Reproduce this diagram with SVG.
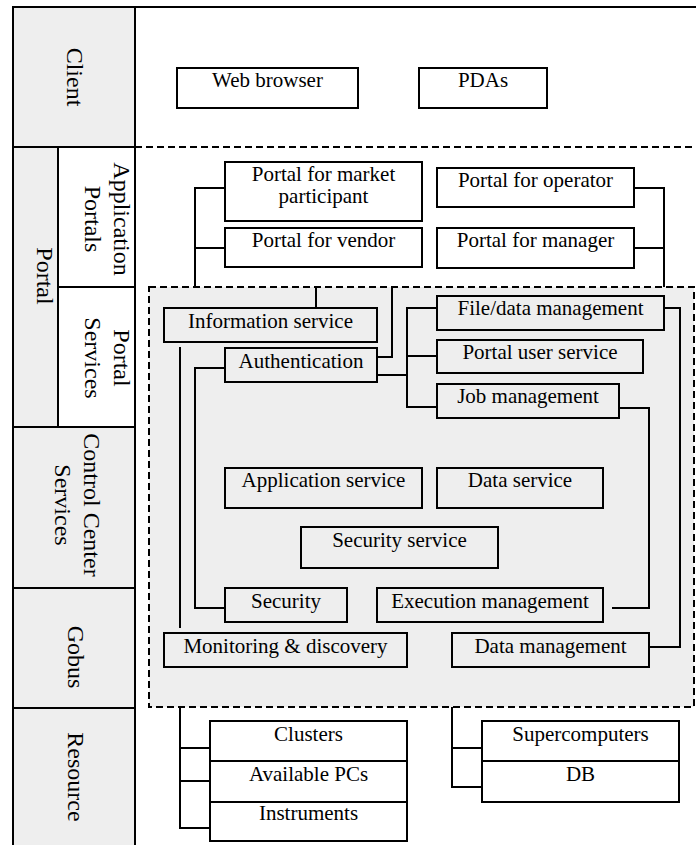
<svg xmlns="http://www.w3.org/2000/svg" width="696" height="845" viewBox="0 0 696 845">
<style>
.cell{stroke:#000;stroke-width:2}
.g{fill:#eeeeee}
.w{fill:#ffffff}
.box{stroke:#000;stroke-width:2}
.ln{fill:none;stroke:#000;stroke-width:2}
.dash{fill:none;stroke:#000;stroke-width:2;stroke-dasharray:7,4}
.t{font-family:"Liberation Serif","Times New Roman",serif;font-size:21px;fill:#000;text-anchor:middle}
.lt{font-family:"Liberation Serif","Times New Roman",serif;font-size:24px;fill:#000;text-anchor:middle}
</style>
<rect x="0" y="0" width="696" height="845" fill="#ffffff"/>
<g id="layers">
<rect class="cell g" x="13" y="7" width="122" height="140"/>
<rect class="cell g" x="13" y="147" width="45" height="280"/>
<rect class="cell w" x="58" y="147" width="77" height="140"/>
<rect class="cell w" x="58" y="287" width="77" height="140"/>
<rect class="cell g" x="13" y="427" width="122" height="161"/>
<rect class="cell g" x="13" y="588" width="122" height="120"/>
<rect class="cell g" x="13" y="708" width="122" height="142"/>
<line class="ln" x1="135" y1="7" x2="697" y2="7"/>
<text class="lt" transform="translate(67,77) rotate(90)">Client</text>
<text class="lt" transform="translate(114,219) rotate(90)">Application</text>
<text class="lt" transform="translate(85,219) rotate(90)">Portals</text>
<text class="lt" transform="translate(37,276) rotate(90)">Portal</text>
<text class="lt" transform="translate(114,358) rotate(90)">Portal</text>
<text class="lt" transform="translate(85,358) rotate(90)">Services</text>
<text class="lt" transform="translate(84,505) rotate(90)">Control Center</text>
<text class="lt" transform="translate(55,505) rotate(90)">Services</text>
<text class="lt" transform="translate(68,657) rotate(90)">Gobus</text>
<text class="lt" transform="translate(68,777) rotate(90)">Resource</text>
</g>
<line class="dash" x1="135" y1="147" x2="697" y2="147"/>
<rect id="grid-services" class="dash" x="149" y="287" width="545" height="420" style="fill:#eeeeee"/>
<g id="connectors">
<polyline class="ln" points="225,188 195,188 195,287"/>
<line class="ln" x1="195" y1="248" x2="225" y2="248"/>
<polyline class="ln" points="634,188 664,188 664,287"/>
<line class="ln" x1="634" y1="248" x2="664" y2="248"/>
<line class="ln" x1="316" y1="287" x2="316" y2="308"/>
<polyline class="ln" points="377,357 392,357 392,287"/>
<polyline class="ln" points="377,375 407,375"/>
<polyline class="ln" points="437,308 407,308 407,407 437,407"/>
<line class="ln" x1="407" y1="356" x2="437" y2="356"/>
<polyline class="ln" points="664,308 680,308 680,647 649,647"/>
<polyline class="ln" points="619,408 649,408 649,608 612,608"/>
<polyline class="ln" points="225,368 195,368 195,608 225,608"/>
<line class="ln" x1="180" y1="347" x2="180" y2="628"/>
<polyline class="ln" points="180,707 180,828 210,828"/>
<line class="ln" x1="180" y1="748" x2="210" y2="748"/>
<line class="ln" x1="180" y1="781" x2="210" y2="781"/>
<polyline class="ln" points="452,707 452,787 482,787"/>
<line class="ln" x1="452" y1="748" x2="482" y2="748"/>
</g>
<g id="web-browser"><rect class="box w" x="177" y="68" width="181" height="40"/><text class="t" x="267.5" y="87">Web browser</text></g>
<g id="pdas"><rect class="box w" x="419" y="68" width="128" height="40"/><text class="t" x="483" y="87">PDAs</text></g>
<g id="portal-market"><rect class="box w" x="225" y="162" width="197" height="59"/><text class="t" x="323.5" y="181">Portal for market</text><text class="t" x="323.5" y="203">participant</text></g>
<g id="portal-vendor"><rect class="box w" x="225" y="228" width="197" height="39"/><text class="t" x="323.5" y="247">Portal for vendor</text></g>
<g id="portal-operator"><rect class="box w" x="437" y="168" width="197" height="39"/><text class="t" x="535.5" y="187">Portal for operator</text></g>
<g id="portal-manager"><rect class="box w" x="437" y="228" width="197" height="40"/><text class="t" x="535.5" y="247">Portal for manager</text></g>
<g id="information-service"><rect class="box g" x="164" y="308" width="213" height="34"/><text class="t" x="270.5" y="328">Information service</text></g>
<g id="authentication"><rect class="box g" x="225" y="348" width="152" height="34"/><text class="t" x="301" y="368">Authentication</text></g>
<g id="file-data-management"><rect class="box g" x="437" y="296" width="227" height="34"/><text class="t" x="550.5" y="315">File/data management</text></g>
<g id="portal-user-service"><rect class="box g" x="437" y="340" width="206" height="33"/><text class="t" x="540" y="359">Portal user service</text></g>
<g id="job-management"><rect class="box g" x="437" y="384" width="182" height="34"/><text class="t" x="528" y="403">Job management</text></g>
<g id="application-service"><rect class="box g" x="225" y="468" width="197" height="40"/><text class="t" x="323.5" y="487">Application service</text></g>
<g id="data-service"><rect class="box g" x="437" y="468" width="166" height="40"/><text class="t" x="520" y="487">Data service</text></g>
<g id="security-service"><rect class="box g" x="301" y="527" width="197" height="41"/><text class="t" x="399.5" y="547">Security service</text></g>
<g id="security"><rect class="box g" x="225" y="588" width="122" height="34"/><text class="t" x="286" y="608">Security</text></g>
<g id="execution-management"><rect class="box g" x="377" y="588" width="226" height="34"/><text class="t" x="490" y="608">Execution management</text></g>
<g id="monitoring-discovery"><rect class="box g" x="164" y="633" width="243" height="34"/><text class="t" x="285.5" y="653">Monitoring &amp; discovery</text></g>
<g id="data-management"><rect class="box g" x="452" y="633" width="197" height="34"/><text class="t" x="550.5" y="653">Data management</text></g>
<g id="clusters"><rect class="box w" x="210" y="721" width="197" height="40"/><text class="t" x="308.5" y="741">Clusters</text></g>
<g id="available-pcs"><rect class="box w" x="210" y="761" width="197" height="41"/><text class="t" x="308.5" y="781">Available PCs</text></g>
<g id="instruments"><rect class="box w" x="210" y="802" width="197" height="39"/><text class="t" x="308.5" y="820">Instruments</text></g>
<g id="supercomputers"><rect class="box w" x="482" y="721" width="197" height="40"/><text class="t" x="580.5" y="741">Supercomputers</text></g>
<g id="db"><rect class="box w" x="482" y="761" width="197" height="41"/><text class="t" x="580.5" y="781">DB</text></g>
</svg>
